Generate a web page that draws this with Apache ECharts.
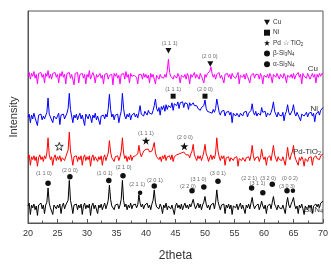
<!DOCTYPE html>
<html><head><meta charset="utf-8">
<script src="https://cdn.jsdelivr.net/npm/echarts@6/dist/echarts.min.js"></script>
<style>html,body{margin:0;padding:0;background:#fff}#c{width:331px;height:267px}</style>
</head><body><div id="c"></div><script>
// intensity (offset, arbitrary units) sampled every 0.2 deg of 2theta from 20 to 70
const cu = [
156,159,152,158,155, 160,153,157,147,158, 156,159,154,157,148, 158,155,161,153,157, 152,158,156,159,154,
157,148,158,155,160, 154,157,147,158,156, 159,153,157,155,146, 158,156,159,148,157, 155,158,153,157,147,
157,154,161,152,156, 159,155,148,157,154, 156,158,153,156,147, 157,155,158,152,156, 154,157,146,158,155,
158,153,156,147,157, 155,158,152,160,154, 157,148,158,155,153, 156,158,154,147,157, 155,157,152,158,154,
157,153,156,148,158, 154,157,155,147,156, 158,152,157,154,156, 153,157,154,161,173, 159,155,157,152,156,
157,153,158,155,148, 156,158,154,157,152, 158,155,147,157,154, 156,159,153,157,155, 152,158,155,157,148,
157,154,158,156,160, 165,158,154,157,152, 157,155,159,153,156, 158,148,157,155,158, 154,157,152,158,155,
157,153,156,159,147, 156,158,154,157,152, 158,155,157,148,156, 154,158,153,157,155, 157,152,158,155,147,
156,158,154,157,153, 158,155,148,157,156, 154,158,156,152,157, 157,153,158,155,148, 156,158,154,157,153,
158,152,156,155,159, 154,157,147,158,155, 157,153,158,156,152, 155,158,154,157,148, 157,154,158,155,158,
157];
const ni = [
112,115,106,114,110, 116,111,113,103,114, 112,115,109,113,110, 110,117,132,115,112, 114,106,113,115,110,
113,116,104,114,112, 115,110,113,116,121, 137,120,113,106,114, 111,115,109,113,116, 110,114,112,103,115,
113,110,115,112,106, 114,111,116,109,113, 115,104,113,111,114, 110,115,112,121,136, 120,112,115,109,114,
112,115,106,113,118, 137,121,113,110,115, 112,116,109,114,113, 116,112,115,111,117, 124,115,117,113,118,
117,114,119,116,118, 115,119,124,131,121, 118,122,114,123,120, 124,118,125,120,124, 126,122,127,119,126,
127,124,128,121,127, 126,128,122,127,125, 126,120,127,124,125, 127,124,122,124,121, 123,119,122,120,124,
130,121,118,120,117, 119,116,120,117,121, 131,124,117,114,118, 116,119,113,117,115, 118,114,117,106,116,
117,113,116,118,112, 116,118,113,117,115, 118,112,116,114,119, 126,117,114,118,113, 116,118,114,122,117,
115,118,112,116,117, 114,117,121,128,118, 115,112,117,114,116, 113,117,108,115,118, 125,117,114,116,119,
125,116,113,117,114, 116,108,115,117,113, 115,117,112,116,114, 117,113,116,107,115, 116,118,114,119,121,
122];
const pdTiO2 = [
69,72,61,70,67, 71,66,70,60,69, 72,67,70,65,71, 68,74,90,72,67, 70,61,69,72,66,
70,67,71,65,69, 71,66,70,68,77, 96,76,69,61,70, 68,71,65,70,67, 71,61,69,72,66,
70,67,71,60,69, 72,66,70,68,65, 70,67,71,61,69, 72,66,70,74,87, 75,69,71,65,70,
68,71,66,70,76, 90,74,68,71,65, 70,67,72,66,70, 68,71,69,73,82, 74,70,73,76,78,
78,80,78,75,74, 76,80,85,74,70, 72,67,70,65,71, 68,72,66,70,69, 71,67,72,65,70,
69,72,70,73,71, 74,73,75,74,72, 71,72,69,73,76, 83,72,69,66,71, 68,71,66,70,75,
83,73,70,65,69, 72,67,71,68,74, 90,76,70,66,71, 68,71,61,69,67, 70,65,69,71,66,
69,67,70,60,68, 70,66,69,71,65, 69,67,70,66,72, 82,71,66,69,67, 70,65,69,78,70,
67,70,61,69,68, 71,66,74,82,72, 68,65,70,67,69, 66,70,68,61,70, 80,70,67,72,75,
82,71,67,69,61, 69,66,70,67,60, 68,70,65,69,67, 70,61,69,67,71, 68,70,67,71,72,
73];
const si3n4 = [
18,21,9,19,16, 20,14,18,8,19, 17,21,15,19,10, 19,22,37,21,16, 18,9,19,21,15,
19,16,20,10,18, 21,15,19,17,24, 45,24,18,10,19, 17,20,14,19,16, 20,9,18,21,15,
19,16,20,8,18, 21,15,19,17,10, 19,16,20,14,18, 21,15,19,24,40, 25,18,20,14,19,
17,20,15,19,25, 45,24,17,20,14, 19,16,21,15,19, 17,20,16,19,30, 21,17,20,15,19,
18,21,16,19,14, 20,24,35,22,17, 19,15,20,17,10, 19,16,21,14,18, 20,15,19,17,9,
18,21,16,19,15, 20,14,18,21,16, 19,15,20,17,21, 25,19,15,18,21, 16,20,14,19,22,
28,20,16,19,14, 19,17,21,15,22, 35,23,18,14,19, 17,20,10,19,16, 20,15,19,9,18,
19,16,20,14,18, 21,15,19,17,10, 19,16,20,15,21, 27,19,15,18,16, 20,14,18,23,18,
15,19,10,18,17, 20,15,22,28,20, 17,14,19,16,18, 15,19,17,10,20, 27,19,16,20,23,
27,19,15,18,10, 19,16,20,15,9, 18,20,14,19,16, 19,10,18,16,20, 17,20,16,21,22,
23];
const twoTheta = cu.map((_, i) => +(20 + i * 0.2).toFixed(1));

// phase markers
const markTheta = [43.8, 50.9, 44.6, 50.0, 40.0, 25.3, 46.5, 23.4, 27.1, 33.7, 36.1, 39.0, 41.4, 47.8, 49.8, 52.2, 57.9, 59.8, 61.4, 63.9, 64.9];
const markValue = [182, 168, 134, 134, 87, 81, 81, 42, 49, 45, 50, 32, 39, 34, 38, 44, 37, 32, 41, 34, 34];
const markKind  = ['Cu','Cu','Ni','Ni','Pd','TiO2','Pd','beta','beta','beta','beta','alpha','beta','beta','beta','beta','beta','beta','beta','beta','alpha'];
// Miller index labels
const hklText  = ['(1 1 1)','(2 0 0)','(1 1 1)','(2 0 0)','(1 1 1)','(2 0 0)','(1 1 0)','(2 0 0)','(1 0 1)','(2 1 0)','(2 1 1)','(2 0 1)','(2 2 0)','(3 1 0)','(3 0 1)','(2 2 1)','(3 1 1)','(3 2 0)','(0 0 2)','(3 0 3)'];
const hklTheta = [44.0, 50.8, 44.6, 50.0, 40.0, 46.6, 22.7, 27.1, 33.0, 36.2, 38.5, 41.5, 47.1, 48.9, 52.2, 57.5, 58.9, 60.7, 64.4, 63.9];
const hklValue = [190, 176, 141, 141, 95, 90, 52, 56, 52, 59, 41, 45, 39, 46, 52, 47, 42, 47, 47, 39];

const seriesNames = ['Cu', 'Ni', '{m|Pd-TiO}{s|2}', '{m|Si}{s|3}{m|N}{s|4}'];
const legendNames = ['Cu', 'Ni', 'Pd', 'beta', 'alpha'];
const legendLabels = {Cu: 'Cu', Ni: 'Ni', Pd: 'Pd {t|☆} TiO{s|2}', beta: 'β-Si{s|3}N{s|4}', alpha: 'α-Si{s|3}N{s|4}'};

const starPath = 'path://M0,-10 L2.35,-3.24 L9.51,-3.09 L3.8,1.24 L5.88,8.09 L0,4 L-5.88,8.09 L-3.8,1.24 L-9.51,-3.09 L-2.35,-3.24 Z';
const downTri = 'path://M0,0 L10,0 L5,9 Z';
const kindStyle = {
  Cu:   {symbol: downTri, size: [6, 5.5], fill: '#111', border: 0},
  Ni:   {symbol: 'rect', size: 5, fill: '#111', border: 0},
  Pd:   {symbol: starPath, size: 8, fill: '#111', border: 0},
  TiO2: {symbol: starPath, size: 8, fill: '#fff', border: 0.8},
  beta: {symbol: 'circle', size: 5.5, fill: '#111', border: 0},
  alpha:{symbol: 'circle', size: 4.5, fill: '#111', border: 0}
};

const font = 'Liberation Sans, Arial, sans-serif';
const chart = echarts.init(document.getElementById('c'), null, {renderer: 'canvas'});
const lineColors = ['#ff00ff', '#0000ff', '#ff0000', '#000000'];
const lineData = [cu, ni, pdTiO2, si3n4];

const series = lineData.map((arr, k) => ({
  type: 'line', name: 'line' + k, data: twoTheta.map((t, i) => [t, arr[i]]),
  showSymbol: false, symbol: 'none', sampling: null,
  lineStyle: {color: lineColors[k], width: 1}, z: 2, silent: true
}));

Object.keys(kindStyle).forEach(kind => {
  const st = kindStyle[kind];
  const pts = [];
  markKind.forEach((k, i) => { if (k === kind) pts.push([markTheta[i], markValue[i]]); });
  series.push({
    type: 'scatter', name: kind, data: pts, symbol: st.symbol, symbolSize: st.size,
    itemStyle: {color: st.fill, borderColor: '#111', borderWidth: st.border, opacity: 1}, z: 5, silent: true
  });
});

series.push({
  type: 'scatter', name: 'hkl', symbolSize: 0.01, z: 6, silent: true,
  data: hklText.map((t, i) => ({value: [hklTheta[i], hklValue[i]], name: t})),
  label: {show: true, position: 'inside', formatter: p => p.name, fontSize: 5.5, color: '#444', fontFamily: font}
});

const nameRich = {
  m: {fontSize: 8, color: '#333', fontFamily: font},
  s: {fontSize: 5.5, color: '#333', fontFamily: font, verticalAlign: 'bottom', padding: [3, 0, 0, 0]}
};
function nameText(k, right, top) {
  return {type: 'text', right: right, top: top, z: 100,
    style: {text: seriesNames[k], rich: nameRich, fontSize: 8, fill: '#333', fontFamily: font}};
}

chart.setOption({
  animation: false,
  backgroundColor: '#fff',
  grid: {left: 23, right: 6, top: 11, bottom: 32, show: true, borderColor: '#555', borderWidth: 1},
  xAxis: {
    type: 'value', min: 20, max: 70, interval: 5,
    name: '2theta', nameLocation: 'middle', nameGap: 27,
    nameTextStyle: {fontSize: 12, color: '#333', fontFamily: font},
    axisLine: {show: true, lineStyle: {color: '#555', width: 1}},
    axisTick: {show: true, inside: true, length: 4, lineStyle: {color: '#555'}},
    minorTick: {show: true, splitNumber: 2, length: 2.5, lineStyle: {color: '#555'}},
    axisLabel: {fontSize: 9, color: '#333', margin: 6, fontFamily: font},
    splitLine: {show: false}
  },
  yAxis: {
    type: 'value', min: 0, max: 224,
    name: 'Intensity', nameLocation: 'middle', nameGap: 9,
    nameTextStyle: {fontSize: 11, color: '#333', fontFamily: font},
    axisLine: {show: true, lineStyle: {color: '#555', width: 1}},
    axisTick: {show: false}, axisLabel: {show: false}, splitLine: {show: false}
  },
  legend: {
    data: legendNames.map(n => ({name: n, icon: n === 'Cu' ? downTri : n === 'Ni' ? 'rect' : n === 'Pd' ? starPath : 'circle'})),
    orient: 'vertical', left: 264, top: 19, padding: 0,
    itemWidth: 6, itemHeight: 6, itemGap: 3.2, selectedMode: false,
    formatter: n => legendLabels[n],
    textStyle: {fontSize: 6.5, color: '#333', fontFamily: font, padding: [0, 0, 0, -2],
      rich: {
        s: {fontSize: 4.5, color: '#333', fontFamily: font, verticalAlign: 'bottom', padding: [3, 0, 0, 0]},
        t: {fontSize: 7, color: '#333'}
      }},
    itemStyle: {color: '#111', borderWidth: 0}
  },
  graphic: [
    nameText(0, 13, 65),
    nameText(1, 13, 105),
    nameText(2, 10, 148),
    nameText(3, 8, 206)
  ],
  series: series
});
</script></body></html>
